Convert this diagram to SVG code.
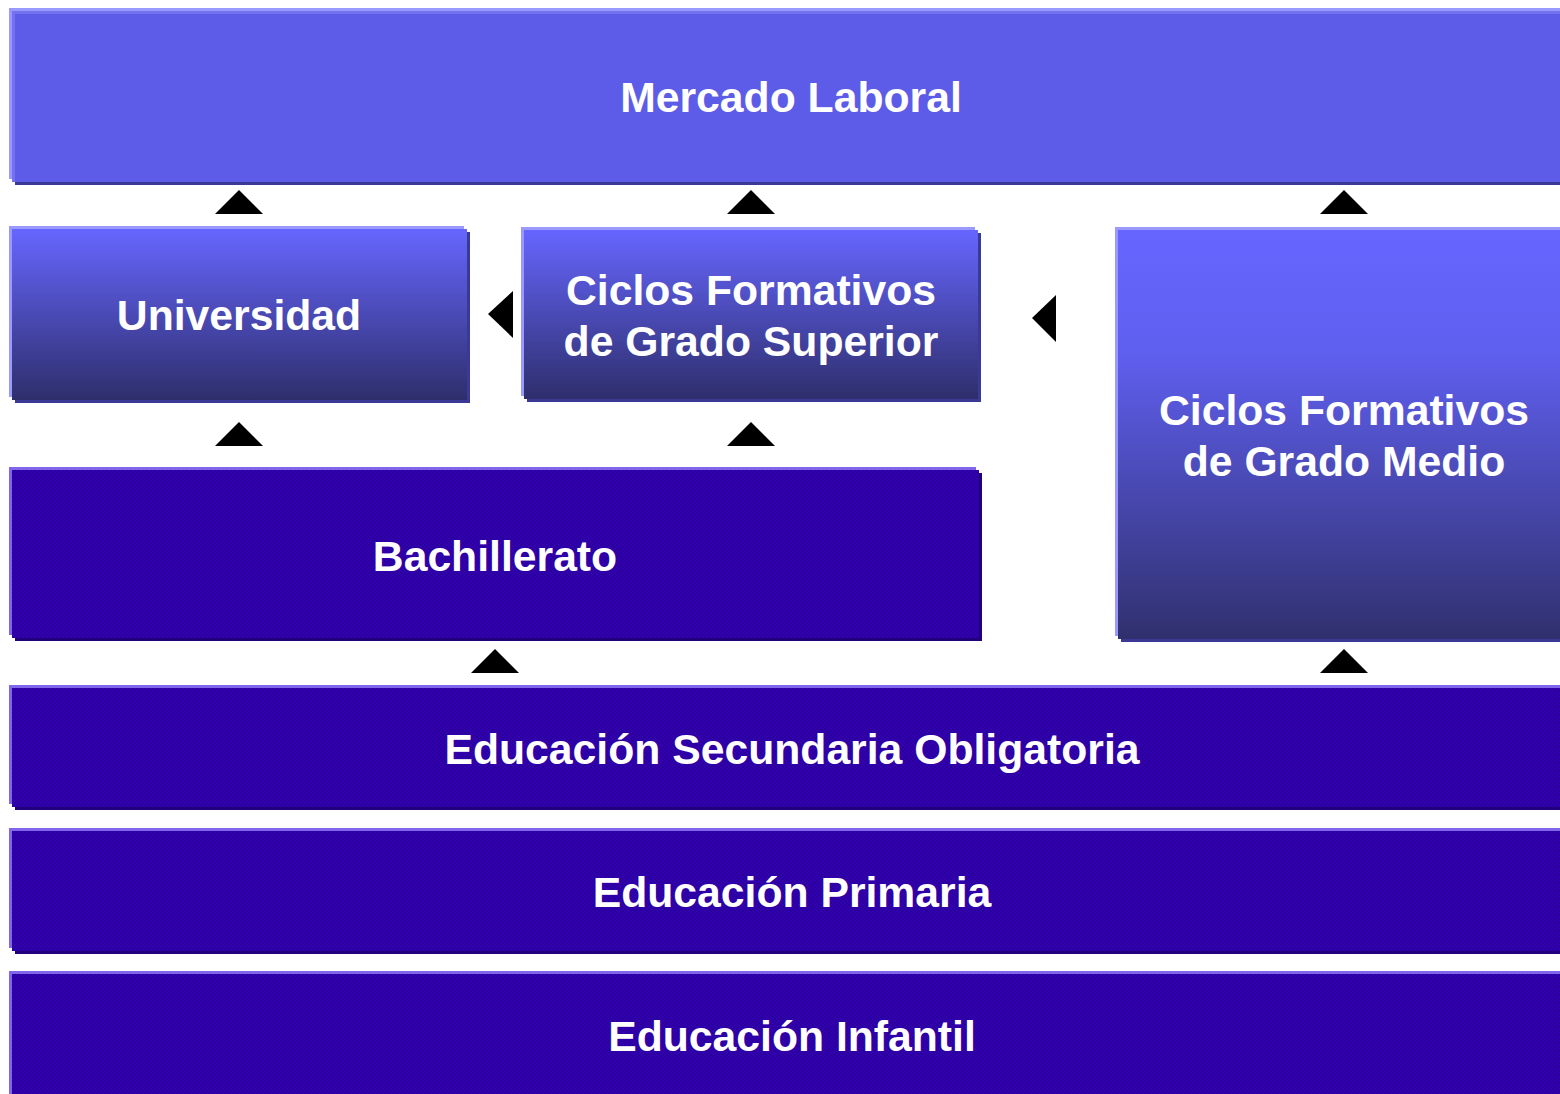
<svg xmlns="http://www.w3.org/2000/svg" width="1560" height="1094" viewBox="0 0 1560 1094">
<style>
.lt{fill:#9999ff}
.dk{fill:#3a3a96}
.plt{fill:#8066ea}
.pdk{fill:#22007c}
.t{font-family:"Liberation Sans",Arial,sans-serif;font-weight:bold;font-size:42.7px;fill:#ffffff;text-anchor:middle}
.arr{fill:#000000}
</style>
<defs>
<linearGradient id="g1" x1="0" y1="0" x2="0" y2="1">
<stop offset="0" stop-color="#6666ff"/>
<stop offset="1" stop-color="#2e2e6c"/>
</linearGradient>
<linearGradient id="g2" x1="0" y1="0" x2="0" y2="1">
<stop offset="0" stop-color="#6666ff"/>
<stop offset="0.3" stop-color="#5f5fef"/>
<stop offset="1" stop-color="#30306e"/>
</linearGradient>
<pattern id="chk" patternUnits="userSpaceOnUse" width="4" height="4">
<rect width="4" height="4" fill="#3300b0"/>
<rect width="2" height="2" fill="#2a009e"/>
<rect x="2" y="2" width="2" height="2" fill="#2a009e"/>
</pattern>
</defs>
<rect width="1560" height="1094" fill="#ffffff"/>

<g id="mercado">
<rect class="dk" x="15" y="14" width="1560" height="171"/>
<rect class="lt" x="9" y="8" width="1560" height="171"/>
<rect fill="#7373f2" x="12" y="11" width="1560" height="171"/>
<rect fill="#5c5ce8" x="15" y="14" width="1560" height="168"/>
<text class="t" x="791" y="112">Mercado Laboral</text>
</g>

<g id="universidad">
<rect class="dk" x="15" y="232" width="455" height="171"/>
<rect class="lt" x="9" y="226" width="455" height="171"/>
<rect fill="url(#g1)" x="12" y="229" width="455" height="171"/>
<text class="t" x="239" y="330">Universidad</text>
</g>

<g id="superior">
<rect class="dk" x="527" y="233" width="454" height="169"/>
<rect class="lt" x="521" y="227" width="454" height="169"/>
<rect fill="url(#g1)" x="524" y="230" width="454" height="169"/>
<text class="t" x="751" y="305">Ciclos Formativos</text>
<text class="t" x="751" y="356">de Grado Superior</text>
</g>

<g id="medio">
<rect class="dk" x="1121" y="233" width="450" height="409"/>
<rect class="lt" x="1115" y="227" width="450" height="409"/>
<rect fill="url(#g2)" x="1118" y="230" width="450" height="409"/>
<text class="t" x="1344" y="425">Ciclos Formativos</text>
<text class="t" x="1344" y="476">de Grado Medio</text>
</g>

<g id="bachillerato">
<rect class="pdk" x="15" y="473" width="967" height="168"/>
<rect class="plt" x="9" y="467" width="967" height="168"/>
<rect fill="url(#chk)" x="12" y="470" width="967" height="168"/>
<text class="t" x="495" y="571">Bachillerato</text>
</g>

<g id="eso">
<rect class="pdk" x="15" y="691" width="1560" height="119"/>
<rect class="plt" x="9" y="685" width="1560" height="119"/>
<rect fill="url(#chk)" x="12" y="688" width="1560" height="119"/>
<text class="t" x="792" y="764">Educación Secundaria Obligatoria</text>
</g>

<g id="primaria">
<rect class="pdk" x="15" y="834" width="1560" height="120"/>
<rect class="plt" x="9" y="828" width="1560" height="120"/>
<rect fill="url(#chk)" x="12" y="831" width="1560" height="120"/>
<text class="t" x="792" y="907">Educación Primaria</text>
</g>

<g id="infantil">
<rect class="pdk" x="15" y="977" width="1560" height="130"/>
<rect class="plt" x="9" y="971" width="1560" height="130"/>
<rect fill="url(#chk)" x="12" y="974" width="1560" height="130"/>
<text class="t" x="792" y="1051">Educación Infantil</text>
</g>

<g id="connectors">
<polygon class="arr" points="239,190 263,214 215,214"/>
<polygon class="arr" points="751,190 775,214 727,214"/>
<polygon class="arr" points="1344,190 1368,214 1320,214"/>
<polygon class="arr" points="239,422 263,446 215,446"/>
<polygon class="arr" points="751,422 775,446 727,446"/>
<polygon class="arr" points="495,649 519,673 471,673"/>
<polygon class="arr" points="1344,649 1368,673 1320,673"/>
<polygon class="arr" points="488,314 513,291 513,338"/>
<polygon class="arr" points="1032,318 1056,295 1056,342"/>
</g>
</svg>
